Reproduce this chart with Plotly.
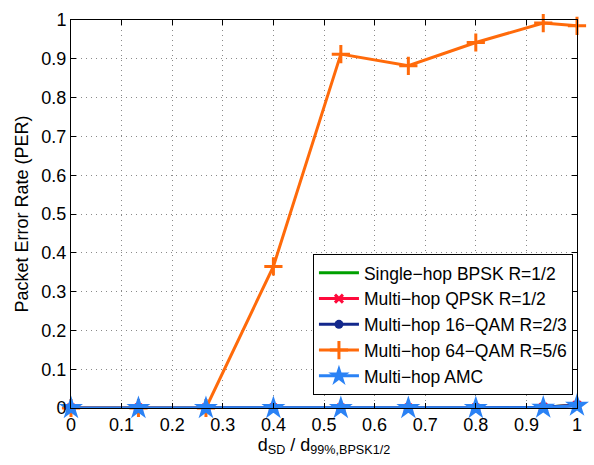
import plotly.graph_objects as go

x_vals = [0, 0.1333, 0.2667, 0.4, 0.5333, 0.6667, 0.8, 0.9333, 1.0]
per_bpsk = [0, 0, 0, 0, 0, 0, 0, 0.002, 0.008]
per_qpsk = [0, 0, 0, 0, 0, 0, 0, 0.002, 0.007]
per_16qam = [0, 0, 0, 0, 0, 0, 0, 0.002, 0.007]
per_64qam = [0, 0, 0, 0.365, 0.912, 0.882, 0.942, 0.992, 0.985]
per_amc = [0, 0, 0, 0, 0, 0, 0, 0.001, 0.006]

names = ["Single\u2212hop BPSK R=1/2", "Multi\u2212hop QPSK R=1/2",
         "Multi\u2212hop 16\u2212QAM R=2/3", "Multi\u2212hop 64\u2212QAM R=5/6",
         "Multi\u2212hop AMC"]
colors = ["#00a000", "#ff0a3c", "#13288c", "#ff6a0a", "#2a82f5"]

fig = go.Figure()
fig.add_trace(go.Scatter(x=x_vals, y=per_bpsk, name=names[0], mode="lines",
                         line=dict(color=colors[0], width=3), cliponaxis=False))
fig.add_trace(go.Scatter(x=x_vals, y=per_qpsk, name=names[1], mode="lines+markers",
                         line=dict(color=colors[1], width=3), cliponaxis=False,
                         marker=dict(symbol="x-thin", size=8, line=dict(color=colors[1], width=3))))
fig.add_trace(go.Scatter(x=x_vals, y=per_16qam, name=names[2], mode="lines+markers",
                         line=dict(color=colors[2], width=3), cliponaxis=False,
                         marker=dict(symbol="circle", size=9, color=colors[2])))
fig.add_trace(go.Scatter(x=x_vals, y=per_64qam, name=names[3], mode="lines+markers",
                         line=dict(color=colors[3], width=3), cliponaxis=False,
                         marker=dict(symbol="cross-thin", size=13, line=dict(color=colors[3], width=3))))
fig.add_trace(go.Scatter(x=x_vals, y=per_amc, name=names[4], mode="lines+markers",
                         line=dict(color=colors[4], width=3), cliponaxis=False,
                         marker=dict(symbol="star", size=18, color=colors[4])))

ticks = [0, 0.1, 0.2, 0.3, 0.4, 0.5, 0.6, 0.7, 0.8, 0.9, 1]
tick_labels = ["0", "0.1", "0.2", "0.3", "0.4", "0.5", "0.6", "0.7", "0.8", "0.9", "1"]

axis_common = dict(showline=True, linecolor="black", linewidth=1, mirror="ticks",
                   ticks="inside", ticklen=5, tickcolor="black",
                   showgrid=True, gridcolor="#8a8a8a", griddash="1px,4px", gridwidth=1,
                   zeroline=False, tickfont=dict(size=18, color="black"))

fig.update_layout(
    width=594, height=465,
    margin=dict(l=71, r=17, t=10, b=57),
    paper_bgcolor="white", plot_bgcolor="white",
    font=dict(family="Liberation Sans, Arial, sans-serif", size=18, color="black"),
    xaxis=dict(range=[0, 1], tickmode="array", tickvals=ticks, ticktext=tick_labels,
               title=dict(text="d<sub>SD</sub> / d<sub>99%,BPSK1/2</sub>", font=dict(size=18), standoff=4),
               **axis_common),
    yaxis=dict(range=[0, 1], tickmode="array", tickvals=ticks, ticktext=tick_labels,
               title=dict(text="Packet Error Rate (PER)", font=dict(size=18), standoff=8),
               **axis_common),
    legend=dict(x=0.992, y=0.397, xanchor="right", yanchor="top",
                bgcolor="white", bordercolor="black", borderwidth=1,
                font=dict(size=17.5), tracegroupgap=0, itemwidth=40),
    showlegend=True,
)

fig.write_html("out.html")
